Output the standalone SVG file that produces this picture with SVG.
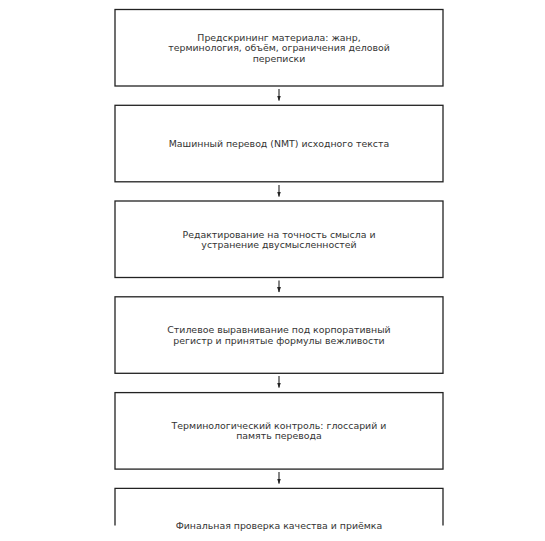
<svg xmlns="http://www.w3.org/2000/svg" width="545" height="541" viewBox="0 0 545 541">
<style>
.box{fill:#fff;stroke:#222;stroke-width:1.3}
.t{font-family:"DejaVu Sans",sans-serif;font-size:9.4px;fill:#333;text-anchor:middle}
.c{stroke:#222;stroke-width:1.1;fill:none}
</style>
<defs>
<marker id="ah" viewBox="0 0 10 10" refX="9" refY="5" markerWidth="5" markerHeight="5" orient="auto">
<path d="M0,1.5 L10,5 L0,8.5 Z" fill="#222"/>
</marker>
</defs>
<rect width="545" height="541" fill="#fff"/>
<g id="connectors">
<line class="c" x1="279" y1="89" x2="279" y2="100.5" marker-end="url(#ah)"/>
<line class="c" x1="279" y1="185" x2="279" y2="196.5" marker-end="url(#ah)"/>
<line class="c" x1="279" y1="280.5" x2="279" y2="292" marker-end="url(#ah)"/>
<line class="c" x1="279" y1="376" x2="279" y2="387.5" marker-end="url(#ah)"/>
<line class="c" x1="279" y1="472" x2="279" y2="483.5" marker-end="url(#ah)"/>
</g>
<g id="n1">
<rect class="box" x="115" y="9.5" width="328" height="76.5"/>
<text class="t" x="279" y="40.5">Предскрининг материала: жанр,</text>
<text class="t" x="279" y="51">терминология, объём, ограничения деловой</text>
<text class="t" x="279" y="61.5">переписки</text>
</g>
<g id="n2">
<rect class="box" x="115" y="105.3" width="328" height="76.5"/>
<text class="t" x="279" y="146.8">Машинный перевод (NMT) исходного текста</text>
</g>
<g id="n3">
<rect class="box" x="115" y="201" width="328" height="76.5"/>
<text class="t" x="279" y="237.5">Редактирование на точность смысла и</text>
<text class="t" x="279" y="248">устранение двусмысленностей</text>
</g>
<g id="n4">
<rect class="box" x="115" y="296.8" width="328" height="76.5"/>
<text class="t" x="279" y="333">Стилевое выравнивание под корпоративный</text>
<text class="t" x="279" y="343.5">регистр и принятые формулы вежливости</text>
</g>
<g id="n5">
<rect class="box" x="115" y="392.6" width="328" height="76.5"/>
<text class="t" x="279" y="428.5">Терминологический контроль: глоссарий и</text>
<text class="t" x="279" y="439">память перевода</text>
</g>
<g id="n6">
<path class="box" d="M115,525.5 V488.4 H443 V525.5"/>
<text class="t" x="279" y="528.5">Финальная проверка качества и приёмка</text>
</g>
</svg>
